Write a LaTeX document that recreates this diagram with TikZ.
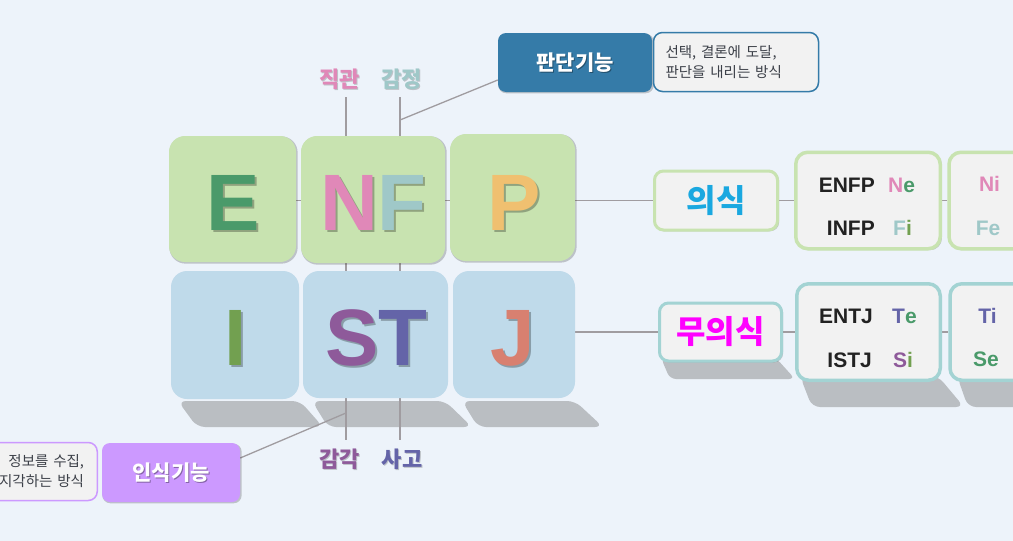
\documentclass[tikz,border=0pt]{standalone}
\usepackage{fontspec}
\setmainfont{Liberation Sans}
\newfontfamily\kr{Noto Sans CJK KR}
\usetikzlibrary{shadows}
\pgfdeclarelayer{behind}
\pgfsetlayers{behind,main}
\definecolor{bgC}{HTML}{EDF3FA}
\definecolor{topfill}{HTML}{C8E3B0}
\definecolor{botfill}{HTML}{BFDAEA}
\definecolor{cE}{HTML}{4A9A6A}
\definecolor{cN}{HTML}{E088B8}
\definecolor{cF}{HTML}{9FC8C8}
\definecolor{cP}{HTML}{F0C070}
\definecolor{cI}{HTML}{72A050}
\definecolor{cS}{HTML}{8E5A9A}
\definecolor{cT}{HTML}{6464A8}
\definecolor{cJ}{HTML}{D88070}
\definecolor{lineC}{HTML}{A09CA0}
\definecolor{judgeC}{HTML}{357BA8}
\definecolor{percC}{HTML}{CC99FF}
\definecolor{descC}{HTML}{F2F2F2}
\definecolor{tealB}{HTML}{A3D3D3}
\definecolor{conC}{HTML}{1AA8E0}
\definecolor{unconC}{HTML}{FF00FF}
\definecolor{descT}{HTML}{3C4048}
\definecolor{darkT}{HTML}{222222}
\definecolor{shC}{HTML}{BABEC2}
\begin{document}
\begin{tikzpicture}[x=1pt,y=-1pt,
  ln/.style={draw=lineC, line width=1.3pt},
  glow/.style={general shadow={fill=black, opacity=0.2, shadow xshift=1pt, shadow yshift=-1pt, shadow scale=1.01}},
  topbox/.style={rectangle, rounded corners=16pt, inner sep=0pt, fill=topfill, glow},
  botbox/.style={rectangle, rounded corners=16pt, inner sep=0pt, fill=botfill},
  bigl/.style={font=\fontsize{80}{80}\selectfont\bfseries, anchor=base, inner sep=0pt},
  bigsh/.style={bigl, text=black, opacity=0.28},
  klab/.style={font={\kr\bfseries\fontsize{22}{24}\selectfont}, inner sep=0pt},
  ksh/.style={klab, text=black, opacity=0.2},
  lat/.style={font=\fontsize{21}{21}\selectfont\bfseries, inner sep=0pt},
  descbox/.style={rectangle, fill=descC, line width=1.5pt, rounded corners=9pt, inner sep=0pt, font={\kr\fontsize{14.5}{20}\selectfont}, text=descT},
  funcbox/.style={rectangle, rounded corners=8pt, inner sep=0pt, glow},
  kwhite/.style={font={\kr\bfseries\fontsize{21}{24}\selectfont}, inner sep=0pt, text=white},
  kwsh/.style={kwhite, text=black, opacity=0.35},
  rbox/.style={rectangle, fill=descC, line width=3.5pt, rounded corners=12pt, inner sep=0pt},
  cbox/.style={rectangle, fill=descC, line width=3pt, rounded corners=9pt, inner sep=0pt, glow},
  skewsh/.style={fill=shC, rounded corners=8pt}
]
\useasboundingbox (0,0) rectangle (1013,541);

% ---- main boxes
\node[topbox, minimum width=127pt, minimum height=126pt] (E) at (232.5,199) {};
\node[topbox, minimum width=144pt, minimum height=127pt] (NF) at (373,199.5) {};
\node[topbox, minimum width=125pt, minimum height=127pt] (P) at (512.5,197.5) {};
\node[botbox, minimum width=128pt, minimum height=128pt] (I) at (235,335) {};
\node[botbox, minimum width=145pt, minimum height=127pt] (ST) at (375.5,334.5) {};
\node[botbox, minimum width=122pt, minimum height=127pt] (J) at (514,334.5) {};

% ---- big letters
\node[bigsh] (Es) at (235,232) {E};
\node[bigl, text=cE] (Et) at (233,230) {E};
\node[bigsh] (NFs) at (375.5,232) {NF};
\node[bigl] (NFt) at (373.5,230) {\textcolor{cN}{N}\textcolor{cF}{F}};
\node[bigsh] (Ps) at (516.5,232) {P};
\node[bigl, text=cP] (Pt) at (514.5,230) {P};
\node[bigsh] (Is) at (238,367) {I};
\node[bigl, text=cI] (It) at (236,365) {I};
\node[bigsh] (STs) at (378.5,367) {ST};
\node[bigl] (STt) at (376.5,365) {\textcolor{cS}{S}\textcolor{cT}{T}};
\node[bigsh] (Js) at (515,367) {J};
\node[bigl, text=cJ] (Jt) at (513,365) {J};

% ---- function labels
\node[ksh] (l1s) at (340.5,80.5) {직관};
\node[klab, text=cN] (l1) at (339.5,79.5) {직관};
\node[ksh] (l2s) at (402.5,80.5) {감정};
\node[klab, text=cF] (l2) at (401.5,79.5) {감정};
\node[ksh] (l3s) at (340.5,460.5) {감각};
\node[klab, text=cS] (l3) at (339.5,459.5) {감각};
\node[ksh] (l4s) at (403,460.5) {사고};
\node[klab, text=cT] (l4) at (402,459.5) {사고};

% ---- judging / perceiving
\node[funcbox, fill=judgeC, minimum width=154pt, minimum height=59pt] (judge) at (575,62.5) {};
\node[kwsh] (judgesh) at (576.3,63.8) {판단기능};
\node[kwhite] (judgetx) at (575,62.5) {판단기능};
\node[descbox, draw=judgeC, minimum width=165pt, minimum height=59pt, text width=141pt, align=left] (jdesc) at (736,62) {선택, 결론에 도달,\\판단을 내리는 방식};

\node[funcbox, fill=percC, minimum width=138pt, minimum height=59pt] (perc) at (171,472.5) {};
\node[kwsh] (percsh) at (172.3,473.8) {인식기능};
\node[kwhite] (perctx) at (171,472.5) {인식기능};
\node[descbox, draw=percC, minimum width=158.5pt, minimum height=58pt, text width=132pt, align=right] (pdesc) at (18,471.5) {정보를 수집,\\지각하는 방식};

% ---- conscious / unconscious
\node[cbox, draw=topfill, minimum width=123pt, minimum height=59pt, font={\kr\bfseries\fontsize{32}{34}\selectfont}, text=conC] (consc) at (716,200.5) {의식};
\node[rbox, draw=topfill, glow, minimum width=144.5pt, minimum height=96.5pt] (enfp) at (868,200.5) {};
\node[rbox, draw=topfill, glow, minimum width=146pt, minimum height=96.5pt] (ni) at (1022,200.5) {};
\node[cbox, draw=tealB, minimum width=122pt, minimum height=58pt, font={\kr\bfseries\fontsize{32}{34}\selectfont}, text=unconC] (uncon) at (720.5,332) {무의식};
\node[rbox, draw=tealB, minimum width=143.5pt, minimum height=96.5pt] (entj) at (868.5,332) {};
\node[rbox, draw=tealB, minimum width=146pt, minimum height=96.5pt] (ti) at (1023,332) {};

% ---- texts in type boxes
\node[lat, text=darkT, anchor=base east] (t1a) at (875,192) {ENFP};
\node[lat, anchor=base west] (t1b) at (888,192) {\textcolor{cN}{N}\textcolor{cE}{e}};
\node[lat, text=darkT, anchor=base east] (t2a) at (875,235) {INFP};
\node[lat, anchor=base west] (t2b) at (893,235) {\textcolor{cF}{F}\textcolor{cI}{i}};
\node[lat, text=darkT, anchor=base east] (t3a) at (873,323) {ENTJ};
\node[lat, anchor=base west] (t3b) at (892,323) {\textcolor{cT}{T}\textcolor{cE}{e}};
\node[lat, text=darkT, anchor=base east] (t4a) at (872,367) {ISTJ};
\node[lat, anchor=base west] (t4b) at (893,367) {\textcolor{cS}{S}\textcolor{cI}{i}};
\node[lat, text=cN, anchor=base] (t5) at (989.5,191) {Ni};
\node[lat, text=cF, anchor=base] (t6) at (988,235) {Fe};
\node[lat, text=cT, anchor=base] (t7) at (987.5,323) {Ti};
\node[lat, text=cE, anchor=base] (t8) at (986,366) {Se};

% ---- connector end points
\coordinate (v1t) at (346,97);
\coordinate (v1b) at (346,440);
\coordinate (v2t) at (400,97);
\coordinate (v2b) at (400,440);
\coordinate (jl) at (400,120);
\coordinate (pl) at (346,413);

\begin{pgfonlayer}{behind}
\fill[bgC] (0,0) rectangle (1013,541);
% skewed shadows
\path[skewsh] (178,401) -- (300,401) -- (323,427) -- (197,427) -- cycle;
\path[skewsh] (312,401) -- (445,401) -- (472,427) -- (328,427) -- cycle;
\path[skewsh] (462,401) -- (575,401) -- (603,427) -- (478,427) -- cycle;
\path[skewsh, rounded corners=6pt] (661,358) -- (776,358) -- (795,379) -- (670,379) -- cycle;
\path[skewsh] (800,376) -- (938,376) -- (964,407) -- (812,407) -- cycle;
\path[skewsh] (957,376) -- (1095,376) -- (1120,407) -- (968,407) -- cycle;
% connectors
\draw[ln] (v1t) -- (v1b);
\draw[ln] (v2t) -- (v2b);
\draw[ln] (E.center |- consc.west) -- (consc.west);
\draw[ln] (consc.east) -- (enfp.west);
\draw[ln] (enfp.east) -- (ni.west);
\draw[ln] (J.center |- uncon.west) -- (uncon.west);
\draw[ln] (uncon.east) -- (entj.west);
\draw[ln] (entj.east) -- (ti.west);
\draw[ln] (jl) -- ([yshift=-17.5pt]judge.west);
\draw[ln] (pl) -- ([yshift=14.5pt]perc.east);
\end{pgfonlayer}
\end{tikzpicture}
\end{document}
